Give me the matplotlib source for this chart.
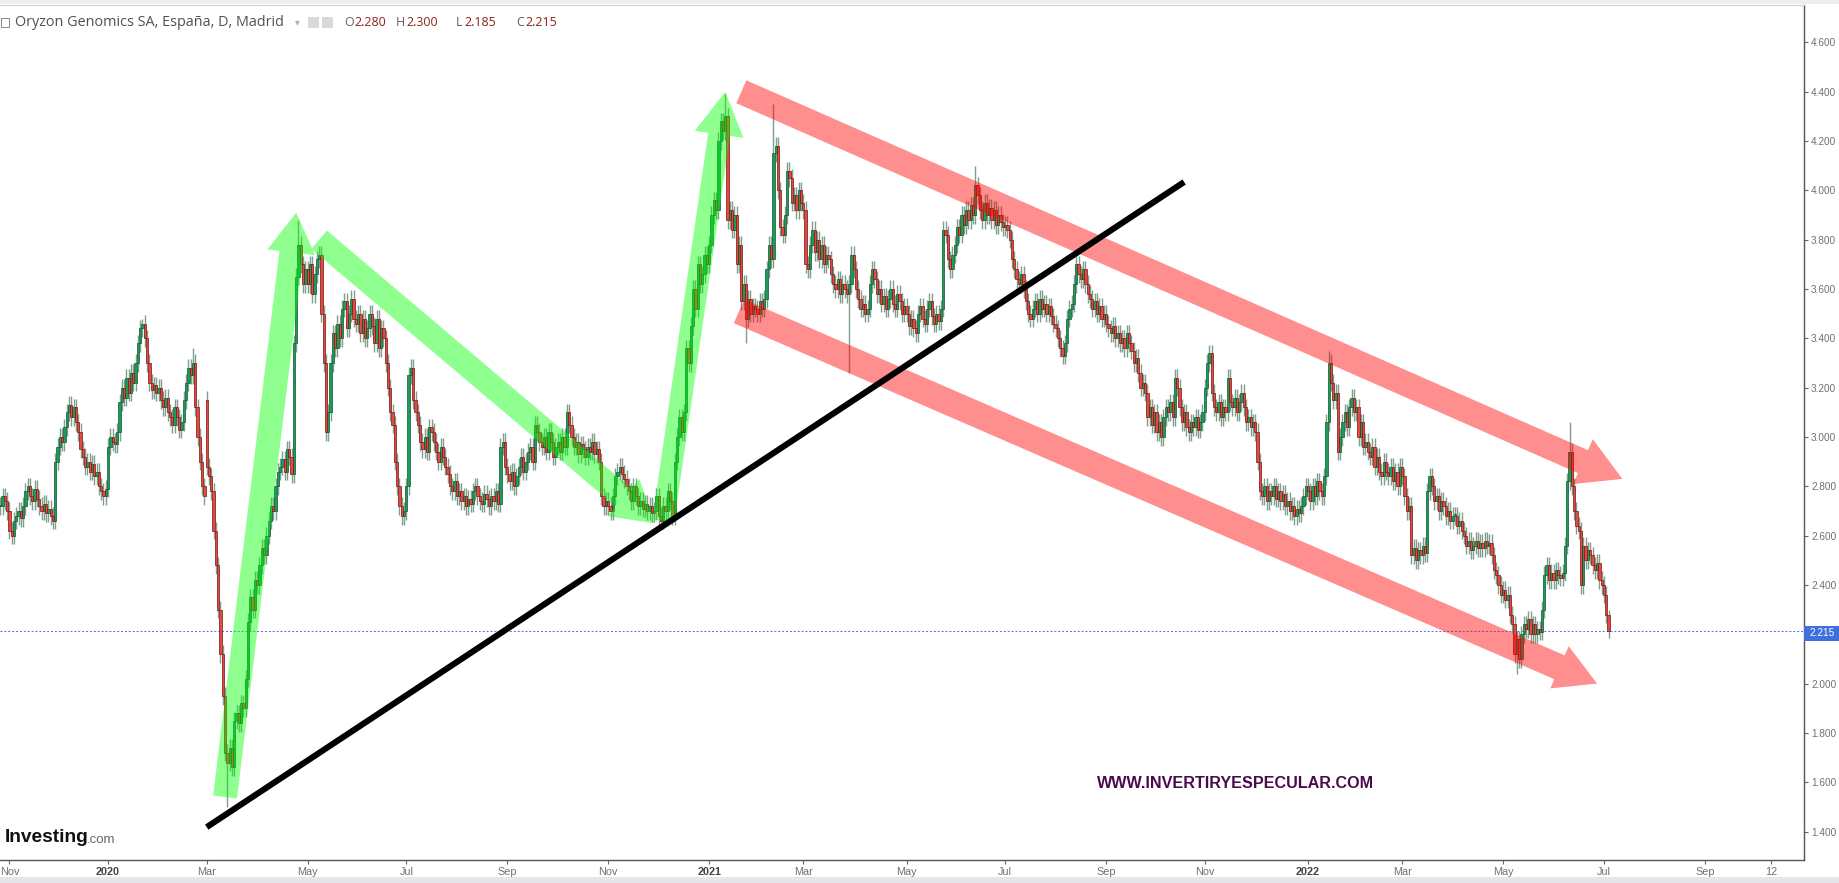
import numpy as np
import pandas as pd
import matplotlib
matplotlib.use("Agg")
import matplotlib.pyplot as plt
from matplotlib.path import Path
from matplotlib.patches import PathPatch, Rectangle

W, H = 1839, 883

# daily closes, one list per month
c2019_10 = [2.72, 2.76, 2.74, 2.70]
c2019_11 = [2.62, 2.60, 2.66, 2.68, 2.70, 2.67, 2.72, 2.78, 2.80, 2.76, 2.74, 2.79, 2.75, 2.72, 2.70, 2.73, 2.69, 2.71, 2.68, 2.66, 2.90]
c2019_12 = [2.96, 3.00, 2.98, 3.04, 3.10, 3.13, 3.08, 3.12, 3.06, 3.02, 2.95, 2.92, 2.88, 2.90, 2.86, 2.89, 2.84, 2.86, 2.80, 2.78, 2.76, 2.79]
c2020_01 = [2.96, 3.00, 2.98, 2.97, 3.02, 3.14, 3.20, 3.16, 3.24, 3.18, 3.26, 3.22, 3.30, 3.38, 3.44, 3.46, 3.40, 3.30, 3.22, 3.19, 3.21, 3.18, 3.20]
c2020_02 = [3.15, 3.12, 3.16, 3.10, 3.08, 3.05, 3.12, 3.08, 3.03, 3.06, 3.15, 3.22, 3.28, 3.25, 3.30, 3.12, 3.00, 2.90, 2.80, 2.76]
c2020_03 = [2.88, 2.84, 2.78, 2.62, 2.48, 2.30, 2.12, 1.95, 1.72, 1.68, 1.74, 1.66, 1.85, 1.88, 1.84, 1.92, 1.90, 2.02, 2.25, 2.35, 2.30, 2.42]
c2020_04 = [2.40, 2.48, 2.55, 2.52, 2.60, 2.66, 2.72, 2.70, 2.80, 2.86, 2.88, 2.91, 2.86, 2.95, 2.92, 2.85, 3.38, 3.65, 3.78, 3.70, 3.62, 3.68]
c2020_05 = [3.62, 3.70, 3.58, 3.66, 3.72, 3.74, 3.50, 3.30, 3.02, 3.10, 3.30, 3.42, 3.36, 3.46, 3.40, 3.52, 3.55, 3.44, 3.50, 3.56, 3.48]
c2020_06 = [3.46, 3.50, 3.42, 3.48, 3.40, 3.44, 3.50, 3.45, 3.38, 3.48, 3.36, 3.44, 3.40, 3.30, 3.20, 3.10, 3.05, 2.90, 2.80, 2.72, 2.68, 2.70]
c2020_07 = [2.80, 3.25, 3.28, 3.15, 3.10, 3.05, 2.98, 2.95, 3.00, 2.94, 3.04, 3.02, 2.98, 2.94, 2.90, 2.96, 2.92, 2.88, 2.85, 2.80, 2.78, 2.82, 2.76]
c2020_08 = [2.78, 2.74, 2.76, 2.72, 2.75, 2.73, 2.78, 2.80, 2.76, 2.74, 2.73, 2.77, 2.75, 2.72, 2.76, 2.74, 2.78, 2.73, 2.96, 2.98, 2.88]
c2020_09 = [2.85, 2.82, 2.86, 2.80, 2.84, 2.88, 2.92, 2.86, 2.90, 2.94, 2.96, 2.90, 3.05, 3.02, 2.98, 2.96, 3.00, 2.94, 3.02, 2.98, 2.92, 2.96]
c2020_10 = [2.98, 2.94, 3.00, 2.96, 3.10, 3.05, 3.00, 2.96, 2.98, 2.93, 2.97, 2.95, 2.92, 2.96, 2.94, 2.98, 2.93, 2.95, 2.90, 2.76, 2.72, 2.74]
c2020_11 = [2.72, 2.70, 2.76, 2.84, 2.86, 2.88, 2.85, 2.83, 2.80, 2.78, 2.74, 2.80, 2.76, 2.72, 2.74, 2.71, 2.73, 2.70, 2.72, 2.69, 2.70]
c2020_12 = [2.76, 2.68, 2.66, 2.72, 2.70, 2.78, 2.74, 2.68, 2.90, 3.00, 3.08, 3.02, 3.10, 3.36, 3.30, 3.45, 3.60, 3.52, 3.70, 3.62, 3.66, 3.74, 3.70]
c2021_01 = [3.78, 3.90, 3.96, 3.92, 4.20, 4.28, 4.24, 4.30, 3.88, 3.92, 3.84, 3.90, 3.70, 3.78, 3.55, 3.62, 3.48, 3.56, 3.50, 3.53, 3.52]
c2021_02 = [3.50, 3.55, 3.52, 3.56, 3.68, 3.78, 3.72, 4.15, 4.18, 4.00, 3.85, 3.82, 3.90, 4.08, 4.05, 3.95, 3.98, 3.92, 4.00, 3.95]
c2021_03 = [3.92, 3.70, 3.68, 3.78, 3.84, 3.75, 3.80, 3.72, 3.78, 3.70, 3.74, 3.72, 3.66, 3.62, 3.60, 3.64, 3.58, 3.62, 3.60, 3.58, 3.62, 3.74, 3.68]
c2021_04 = [3.60, 3.56, 3.52, 3.54, 3.50, 3.52, 3.62, 3.68, 3.64, 3.58, 3.60, 3.54, 3.57, 3.52, 3.56, 3.60, 3.54, 3.52, 3.58, 3.55, 3.50, 3.53]
c2021_05 = [3.50, 3.45, 3.48, 3.44, 3.42, 3.50, 3.53, 3.48, 3.46, 3.52, 3.55, 3.49, 3.46, 3.50, 3.47, 3.52, 3.84, 3.82, 3.72, 3.68, 3.74]
c2021_06 = [3.78, 3.85, 3.82, 3.90, 3.86, 3.92, 3.88, 3.94, 3.90, 4.02, 3.98, 3.92, 3.88, 3.95, 3.90, 3.93, 3.88, 3.92, 3.86, 3.90, 3.87, 3.85]
c2021_07 = [3.86, 3.84, 3.80, 3.72, 3.68, 3.64, 3.62, 3.66, 3.60, 3.55, 3.50, 3.48, 3.52, 3.55, 3.50, 3.56, 3.52, 3.54, 3.50, 3.53, 3.49, 3.46]
c2021_08 = [3.44, 3.40, 3.36, 3.33, 3.38, 3.48, 3.52, 3.54, 3.62, 3.70, 3.66, 3.64, 3.68, 3.62, 3.58, 3.56, 3.52, 3.55, 3.50, 3.53, 3.48, 3.50]
c2021_09 = [3.46, 3.44, 3.42, 3.45, 3.40, 3.42, 3.38, 3.40, 3.36, 3.42, 3.38, 3.35, 3.30, 3.32, 3.26, 3.20, 3.22, 3.18, 3.08, 3.12, 3.05, 3.10]
c2021_10 = [3.02, 3.06, 3.00, 3.08, 3.12, 3.10, 3.14, 3.08, 3.24, 3.20, 3.12, 3.06, 3.10, 3.04, 3.02, 3.06, 3.04, 3.08, 3.03, 3.06, 3.10]
c2021_11 = [3.20, 3.30, 3.34, 3.18, 3.12, 3.10, 3.14, 3.08, 3.12, 3.10, 3.24, 3.14, 3.12, 3.16, 3.10, 3.14, 3.18, 3.12, 3.06, 3.08, 3.04, 3.06]
c2021_12 = [3.02, 2.90, 2.78, 2.76, 2.80, 2.74, 2.78, 2.76, 2.80, 2.75, 2.78, 2.74, 2.77, 2.72, 2.74, 2.70, 2.72, 2.68, 2.71, 2.69, 2.72, 2.76, 2.80]
c2022_01 = [2.78, 2.74, 2.80, 2.76, 2.82, 2.78, 2.76, 2.84, 3.06, 3.30, 3.22, 3.15, 3.18, 2.94, 3.00, 3.06, 3.10, 3.04, 3.12, 3.16, 3.10]
c2022_02 = [3.12, 3.00, 3.06, 2.96, 2.98, 2.94, 2.92, 2.96, 2.88, 2.92, 2.86, 2.84, 2.90, 2.86, 2.84, 2.88, 2.82, 2.86, 2.80, 2.88]
c2022_03 = [2.84, 2.76, 2.70, 2.72, 2.52, 2.55, 2.50, 2.54, 2.52, 2.56, 2.53, 2.78, 2.84, 2.80, 2.74, 2.76, 2.70, 2.74, 2.72, 2.68, 2.70, 2.66, 2.68]
c2022_04 = [2.68, 2.64, 2.66, 2.62, 2.60, 2.56, 2.58, 2.54, 2.56, 2.58, 2.55, 2.57, 2.55, 2.58, 2.56, 2.57, 2.52, 2.46, 2.44, 2.40, 2.36]
c2022_05 = [2.38, 2.34, 2.36, 2.28, 2.24, 2.12, 2.18, 2.10, 2.20, 2.24, 2.22, 2.26, 2.20, 2.24, 2.20, 2.22, 2.21, 2.30, 2.44, 2.48, 2.42, 2.45]
c2022_06 = [2.42, 2.46, 2.44, 2.43, 2.45, 2.56, 2.82, 2.94, 2.80, 2.70, 2.64, 2.62, 2.40, 2.56, 2.50, 2.54, 2.52, 2.48, 2.46, 2.49, 2.42, 2.40]
c2022_07 = [2.36, 2.28, 2.215]

months = {
    '2019-10': c2019_10, '2019-11': c2019_11, '2019-12': c2019_12,
    '2020-01': c2020_01, '2020-02': c2020_02, '2020-03': c2020_03, '2020-04': c2020_04,
    '2020-05': c2020_05, '2020-06': c2020_06, '2020-07': c2020_07, '2020-08': c2020_08,
    '2020-09': c2020_09, '2020-10': c2020_10, '2020-11': c2020_11, '2020-12': c2020_12,
    '2021-01': c2021_01, '2021-02': c2021_02, '2021-03': c2021_03, '2021-04': c2021_04,
    '2021-05': c2021_05, '2021-06': c2021_06, '2021-07': c2021_07, '2021-08': c2021_08,
    '2021-09': c2021_09, '2021-10': c2021_10, '2021-11': c2021_11, '2021-12': c2021_12,
    '2022-01': c2022_01, '2022-02': c2022_02, '2022-03': c2022_03, '2022-04': c2022_04,
    '2022-05': c2022_05, '2022-06': c2022_06, '2022-07': c2022_07,
}

# long shadows / gaps seen on the chart
open_fix = {'2020-03-02': 3.15}
high_fix = {'2020-01-22': 3.48, '2020-02-21': 3.36, '2020-04-27': 3.88, '2021-01-12': 4.39,
            '2021-02-10': 4.35, '2021-06-14': 4.10, '2022-01-14': 3.35, '2022-06-10': 3.06,
            '2022-07-05': 2.30}
low_fix = {'2020-03-13': 1.50, '2021-01-25': 3.38, '2021-03-29': 3.26, '2022-05-10': 2.04,
           '2022-07-05': 2.185}

last_price = 2.215
y_ticks = [1.4, 1.6, 1.8, 2.0, 2.2, 2.4, 2.6, 2.8, 3.0, 3.2, 3.4, 3.6, 3.8, 4.0, 4.2, 4.4, 4.6]
tick_dates = ['2019-11-01', '2020-01-01', '2020-03-02', '2020-05-01', '2020-07-01', '2020-09-01',
              '2020-11-02', '2021-01-01', '2021-03-01', '2021-05-03', '2021-07-01', '2021-09-01',
              '2021-11-01', '2022-01-03', '2022-03-01', '2022-05-02', '2022-07-01', '2022-09-01',
              '2022-10-12']
tick_labels = ['Nov', '2020', 'Mar', 'May', 'Jul', 'Sep', 'Nov', '2021', 'Mar', 'May', 'Jul', 'Sep',
               'Nov', '2022', 'Mar', 'May', 'Jul', 'Sep', '12']

# drawings: (start date, price), (tip date, price), shaft px, head width px, head length px
green_arrows = [
    (('2020-03-12', 1.54), ('2020-04-24', 3.91), 24, 48, 40),
    (('2020-05-08', 3.80), ('2020-11-30', 2.65), 24, 49, 40),
    (('2020-12-04', 2.66), ('2021-01-12', 4.40), 22, 49, 43),
]
red_arrows = [
    (('2021-01-21', 4.40), ('2022-07-13', 2.83), 25, 49, 43),
    (('2021-01-20', 3.51), ('2022-06-28', 2.00), 26, 46, 41),
]
trend_line = (('2020-03-02', 1.418), ('2021-10-19', 4.034))

# ---- build OHLC on a business-day index
all_days = pd.bdate_range('2019-10-28', '2022-12-30')
day_pos = {d: i for i, d in enumerate(all_days)}
month_key = all_days.strftime('%Y-%m')

rows = []
for m, vals in months.items():
    days = all_days[month_key == m]
    for d, c in zip(days, vals):
        rows.append((d, c))
df = pd.DataFrame(rows, columns=['date', 'close'])
df['x'] = df['date'].map(day_pos)
df['open'] = df['close'].shift(1).fillna(df['close'].iloc[0])
for d, v in open_fix.items():
    df.loc[df.date == pd.Timestamp(d), 'open'] = v
wick = 0.035
df['high'] = df[['open', 'close']].max(axis=1) + wick
df['low'] = df[['open', 'close']].min(axis=1) - wick
for d, v in high_fix.items():
    df.loc[df.date == pd.Timestamp(d), 'high'] = v
for d, v in low_fix.items():
    df.loc[df.date == pd.Timestamp(d), 'low'] = v


def xpos(d):
    return day_pos[pd.Timestamp(d)]


fig = plt.figure(figsize=(W / 100, H / 100), dpi=100)
fig.patch.set_facecolor('white')
ax = fig.add_axes([0, 23 / H, 1804 / W, (860 - 5) / H])

i0, i1 = xpos('2019-11-01'), xpos('2022-07-01')
k = (1604 - 9.4) / (i1 - i0)
ax.set_xlim(i0 - 9.4 / k, i0 + (1804 - 9.4) / k)
ax.set_ylim(1.2847, 4.7518)

up = df.close >= df.open
dn = ~up
ax.vlines(df.x, df.low, df.high, color='#7f9e8c', lw=1.0, zorder=2)
body = (df.close - df.open).abs().clip(lower=0.006)
bottom = df[['open', 'close']].min(axis=1)
ax.bar(df.x[up], body[up], bottom=bottom[up], width=1.0, color='#1e9a58',
       edgecolor='#0e5c33', linewidth=0.5, zorder=3)
ax.bar(df.x[dn], body[dn], bottom=bottom[dn], width=1.0, color='#e04a40',
       edgecolor='#7a1512', linewidth=0.5, zorder=3)

# last price line
ax.axhline(last_price, color='#4a6fe0', lw=0.7, ls=(0, (2, 2)), zorder=1)


def arrow_path(p0, p1, shaft, head_w, head_l):
    a = ax.transData.transform((xpos(p0[0]), p0[1]))
    b = ax.transData.transform((xpos(p1[0]), p1[1]))
    d = b - a
    u = d / np.hypot(*d)
    n = np.array([-u[1], u[0]])
    base = b - u * head_l
    pts = [a + n * shaft / 2, base + n * shaft / 2, base + n * head_w / 2, b,
           base - n * head_w / 2, base - n * shaft / 2, a - n * shaft / 2, a + n * shaft / 2]
    return Path(ax.transData.inverted().transform(pts), closed=True)


gpath = Path.make_compound_path(*[arrow_path(*a) for a in green_arrows])
ax.add_patch(PathPatch(gpath, facecolor=(0.0, 1.0, 0.0, 0.44), edgecolor='none', zorder=4))
rpath = Path.make_compound_path(*[arrow_path(*a) for a in red_arrows])
ax.add_patch(PathPatch(rpath, facecolor=(1.0, 0.0, 0.0, 0.44), edgecolor='none', zorder=4))

(t0, p0), (t1, p1) = trend_line
ax.plot([xpos(t0), xpos(t1)], [p0, p1], color='black', lw=4.4, solid_capstyle='butt', zorder=5)

# axes styling
ax.spines['left'].set_visible(False)
ax.spines['top'].set_color('#d0d0d0')
ax.spines['top'].set_linewidth(0.8)
ax.spines['right'].set_color('#555555')
ax.spines['bottom'].set_color('#555555')
ax.spines['right'].set_linewidth(1.0)
ax.spines['bottom'].set_linewidth(1.0)

ax.yaxis.tick_right()
ax.set_yticks(y_ticks)
ax.set_yticklabels([f'{v:.3f}' for v in y_ticks])
ax.tick_params(axis='y', direction='out', length=3, width=0.8, color='#666666',
               labelsize=7.2, labelcolor='#707070', pad=2)
ax.set_xticks([xpos(d) for d in tick_dates])
ax.set_xticklabels(tick_labels)
ax.tick_params(axis='x', direction='out', length=3, width=0.8, color='#666666',
               labelsize=7.8, labelcolor='#707070', pad=2)
for lab in ax.get_xticklabels() + ax.get_yticklabels():
    lab.set_family(['Liberation Sans Narrow', 'Liberation Sans'])
for lab in ax.get_xticklabels():
    if lab.get_text() in ('2020', '2021', '2022'):
        lab.set_color('#444444')
        lab.set_fontweight('bold')

# price tag on the axis
fig.patches.append(Rectangle((1804 / W, 1 - 641 / H), 35 / W, 15 / H, transform=fig.transFigure,
                             facecolor='#3f6fdc', edgecolor='none'))
fig.text(1809 / W, 1 - 633.5 / H, '2.215', color='white', fontsize=7.2, va='center',
         family=['Liberation Sans Narrow', 'Liberation Sans'])

# header / footer strips
fig.patches.append(Rectangle((0, 1 - 4 / H), 1, 4 / H, transform=fig.transFigure,
                             facecolor='#eeeeee', edgecolor='none'))
fig.patches.append(Rectangle((0, 0), 1, 6 / H, transform=fig.transFigure,
                             facecolor='#e6e6ea', edgecolor='none'))

# title line
fig.patches.append(Rectangle((1 / W, 1 - 27 / H), 8 / W, 9 / H, transform=fig.transFigure,
                             facecolor='white', edgecolor='#8a8a8a', lw=0.7))
fig.text(15 / W, 1 - 22 / H, 'Oryzon Genomics SA, España, D, Madrid', fontsize=10.4,
         color='#505050', va='center', family='Open Sans')
fig.text(295 / W, 1 - 22 / H, '▾', fontsize=7, color='#b0b0b0', va='center')
for px in (308, 322):
    fig.patches.append(Rectangle((px / W, 1 - 28 / H), 11 / W, 11 / H, transform=fig.transFigure,
                                 facecolor='#d9d9d9', edgecolor='none'))
ohlc = [('O', '2.280', 344, 10), ('H', '2.300', 396, 10), ('L', '2.185', 456, 8), ('C', '2.215', 516, 9)]
for letter, val, px, off in ohlc:
    fig.text(px / W, 1 - 22 / H, letter, fontsize=9, color='#606060', va='center', family='Open Sans')
    fig.text((px + off) / W, 1 - 22 / H, val, fontsize=9, color='#8b2316', va='center', family='Open Sans')

# logo and watermark
fig.text(5 / W, 1 - 838 / H, 'Investing', fontsize=13.8, fontweight='bold', color='#111111',
         va='center', family='Liberation Sans')
fig.text(87 / W, 1 - 840 / H, '.com', fontsize=9.5, color='#666666', va='center',
         family='Liberation Sans')
fig.text(1097 / W, 1 - 784 / H, 'WWW.INVERTIRYESPECULAR.COM', fontsize=11.6, fontweight='bold',
         color='#4b0a4b', va='center', family='Liberation Sans')

fig.savefig('out.png', dpi=100)
